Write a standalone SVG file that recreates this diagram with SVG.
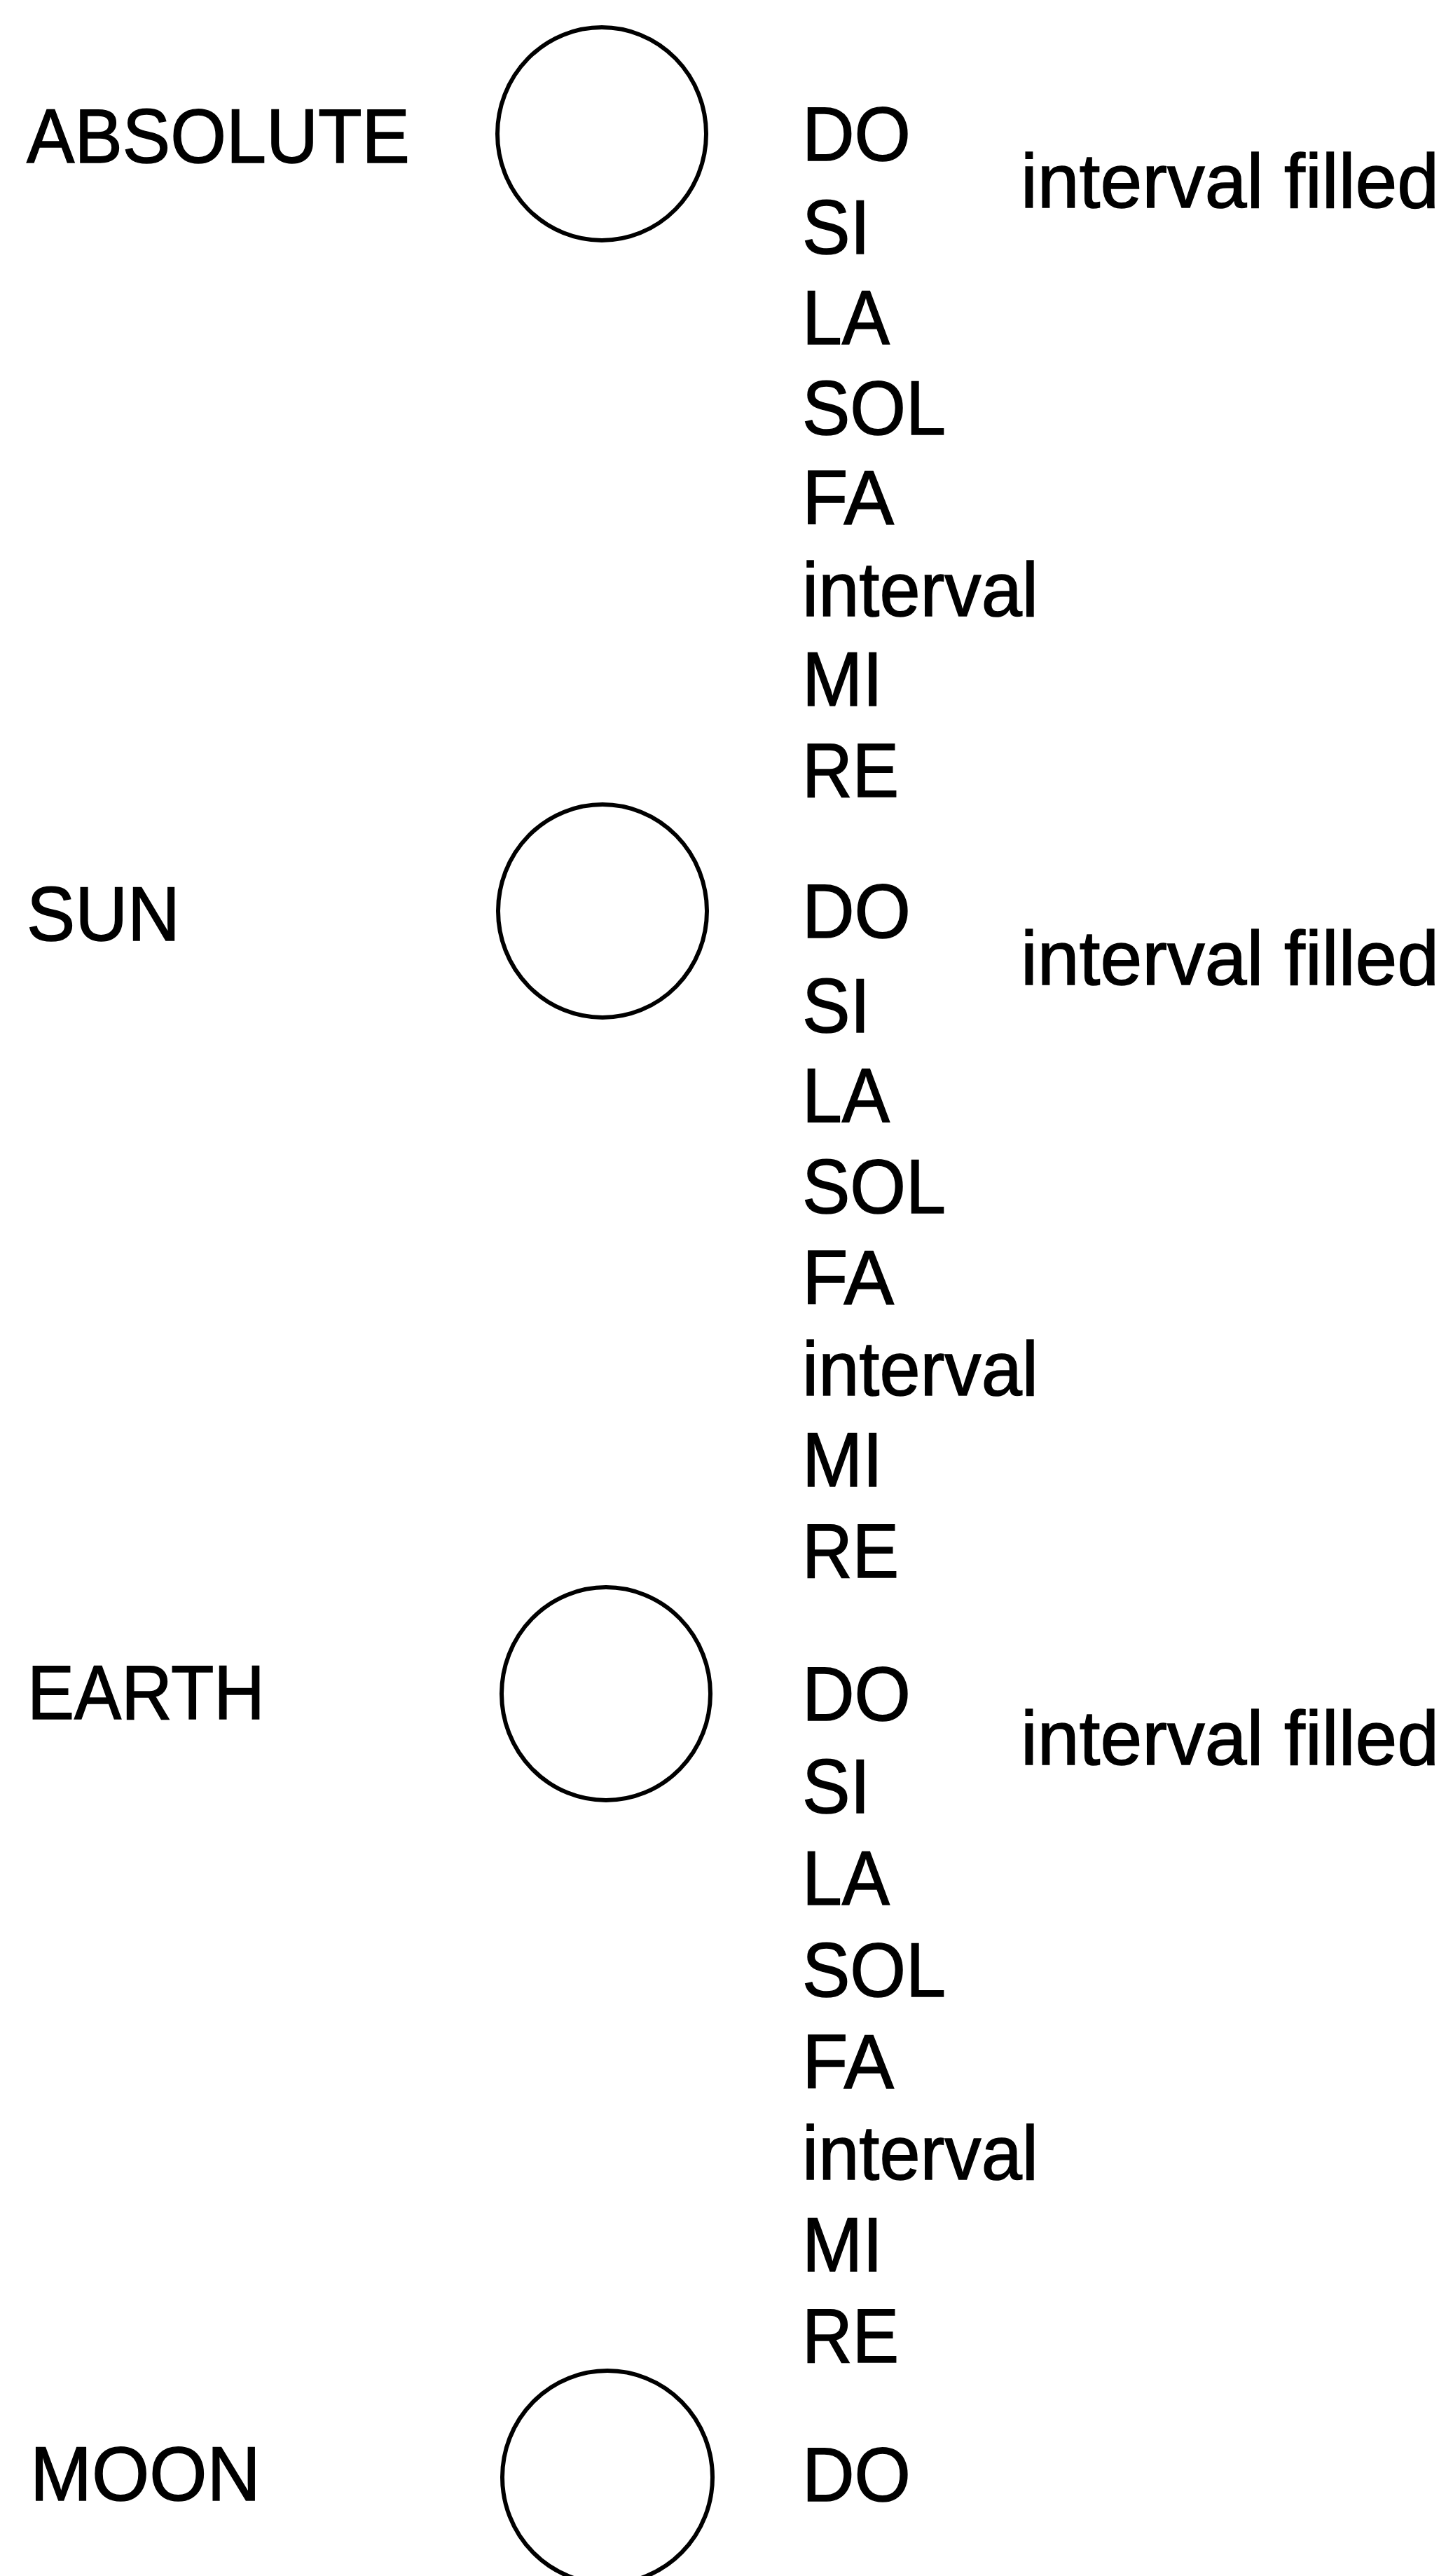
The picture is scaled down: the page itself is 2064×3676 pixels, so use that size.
<svg xmlns="http://www.w3.org/2000/svg" width="2064" height="3676" viewBox="0 0 2064 3676">
<style>
text{font-family:"Liberation Sans",Arial,sans-serif;font-size:110px;fill:#000;stroke:#000;stroke-width:1.5px;}
.c{fill:none;stroke:#000;stroke-width:6;}
</style>
<rect width="2064" height="3676" fill="#fff"/>
<g id="connectors"/>
<g id="absolute">
<text x="38" y="232" textLength="547" lengthAdjust="spacingAndGlyphs">ABSOLUTE</text>
<ellipse class="c" cx="859" cy="191" rx="149" ry="152"/>
<text x="1145" y="229" textLength="155" lengthAdjust="spacingAndGlyphs">DO</text>
<text x="1145" y="362" textLength="97" lengthAdjust="spacingAndGlyphs">SI</text>
<text x="1145" y="491" textLength="125" lengthAdjust="spacingAndGlyphs">LA</text>
<text x="1145" y="620" textLength="205" lengthAdjust="spacingAndGlyphs">SOL</text>
<text x="1145" y="748" textLength="131" lengthAdjust="spacingAndGlyphs">FA</text>
<text x="1145" y="879" textLength="337" lengthAdjust="spacingAndGlyphs">interval</text>
<text x="1145" y="1007" textLength="115" lengthAdjust="spacingAndGlyphs">MI</text>
<text x="1145" y="1137" textLength="138" lengthAdjust="spacingAndGlyphs">RE</text>
<text x="1457" y="296" textLength="597" lengthAdjust="spacingAndGlyphs">interval filled</text>
</g>
<g id="sun">
<text x="38" y="1342" textLength="219" lengthAdjust="spacingAndGlyphs">SUN</text>
<ellipse class="c" cx="860" cy="1300" rx="149" ry="152"/>
<text x="1145" y="1338" textLength="155" lengthAdjust="spacingAndGlyphs">DO</text>
<text x="1145" y="1473" textLength="97" lengthAdjust="spacingAndGlyphs">SI</text>
<text x="1145" y="1601" textLength="125" lengthAdjust="spacingAndGlyphs">LA</text>
<text x="1145" y="1731" textLength="205" lengthAdjust="spacingAndGlyphs">SOL</text>
<text x="1145" y="1861" textLength="131" lengthAdjust="spacingAndGlyphs">FA</text>
<text x="1145" y="1991" textLength="337" lengthAdjust="spacingAndGlyphs">interval</text>
<text x="1145" y="2121" textLength="115" lengthAdjust="spacingAndGlyphs">MI</text>
<text x="1145" y="2251" textLength="138" lengthAdjust="spacingAndGlyphs">RE</text>
<text x="1457" y="1405" textLength="597" lengthAdjust="spacingAndGlyphs">interval filled</text>
</g>
<g id="earth">
<text x="39" y="2453" textLength="339" lengthAdjust="spacingAndGlyphs">EARTH</text>
<ellipse class="c" cx="865" cy="2417" rx="149" ry="152"/>
<text x="1145" y="2455" textLength="155" lengthAdjust="spacingAndGlyphs">DO</text>
<text x="1145" y="2587" textLength="97" lengthAdjust="spacingAndGlyphs">SI</text>
<text x="1145" y="2718" textLength="125" lengthAdjust="spacingAndGlyphs">LA</text>
<text x="1145" y="2849" textLength="205" lengthAdjust="spacingAndGlyphs">SOL</text>
<text x="1145" y="2980" textLength="131" lengthAdjust="spacingAndGlyphs">FA</text>
<text x="1145" y="3110" textLength="337" lengthAdjust="spacingAndGlyphs">interval</text>
<text x="1145" y="3241" textLength="115" lengthAdjust="spacingAndGlyphs">MI</text>
<text x="1145" y="3371" textLength="138" lengthAdjust="spacingAndGlyphs">RE</text>
<text x="1457" y="2518" textLength="597" lengthAdjust="spacingAndGlyphs">interval filled</text>
</g>
<g id="moon">
<text x="43" y="3568" textLength="329" lengthAdjust="spacingAndGlyphs">MOON</text>
<ellipse class="c" cx="867" cy="3535" rx="150" ry="152"/>
<text x="1145" y="3569" textLength="155" lengthAdjust="spacingAndGlyphs">DO</text>
</g>
</svg>
